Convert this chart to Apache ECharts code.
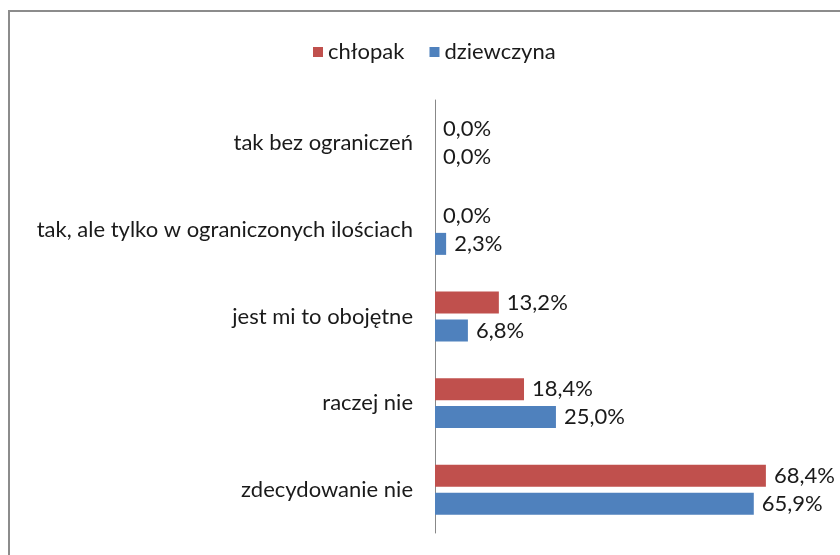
<!DOCTYPE html>
<html>
<head>
<meta charset="utf-8">
<script src="https://cdn.jsdelivr.net/npm/echarts@6/dist/echarts.min.js"></script>
<style>
    html, body { margin: 0; padding: 0; background: #fff; }
    #chart { width: 840px; height: 555px; }
</style>
</head>
<body>
<div id="chart"></div>
<script>
// kategorie od dołu do góry (oś kategorii w ECharts rośnie w górę)
var categories = ['zdecydowanie nie', 'raczej nie', 'jest mi to obojętne', 'tak, ale tylko w ograniczonych ilościach', 'tak bez ograniczeń'];
var chlopak = [68.4, 18.4, 13.2, 0.0, 0.0];
var dziewczyna = [65.9, 25.0, 6.8, 2.3, 0.0];
var seriesNames = ['chłopak', 'dziewczyna'];

var fontName = 'Lato';

var chart = echarts.init(document.getElementById('chart'));

function fmt(p) {
    return p.value.toFixed(1).replace('.', ',') + '%';
}

var labelStyle = { show: true, position: 'right', distance: 8, formatter: fmt, fontFamily: fontName, fontSize: 22, color: '#1a1a1a' };

var option = {
    animation: false,
    color: ['#C0504D', '#4F81BD'],
    graphic: [{
        type: 'polyline',
        shape: { points: [[9, 560], [9, 11], [850, 11]] },
        style: { stroke: '#8c8c8c', lineWidth: 2, fill: null }
    }],
    legend: {
        data: seriesNames,
        top: 36,
        left: 308,
        itemWidth: 10,
        itemHeight: 10,
        itemGap: 25,
        icon: 'rect',
        textStyle: { fontFamily: fontName, fontSize: 22, color: '#1a1a1a' }
    },
    grid: {
        left: 435,
        right: 18,
        top: 100,
        bottom: 22,
        containLabel: false
    },
    xAxis: {
        type: 'value',
        min: 0,
        max: 80,
        show: false
    },
    yAxis: {
        type: 'category',
        data: categories,
        axisLine: { show: true, lineStyle: { color: '#888', width: 1 } },
        axisTick: { show: false },
        axisLabel: {
            margin: 22,
            fontFamily: fontName,
            fontSize: 22,
            color: '#1a1a1a'
        }
    },
    series: [{
        name: seriesNames[0],
        type: 'bar',
        data: chlopak,
        barWidth: 22,
        barGap: '27%',
        label: labelStyle
    }, {
        name: seriesNames[1],
        type: 'bar',
        data: dziewczyna,
        barWidth: 22,
        label: labelStyle
    }]
};

chart.setOption(option);
</script>
</body>
</html>
